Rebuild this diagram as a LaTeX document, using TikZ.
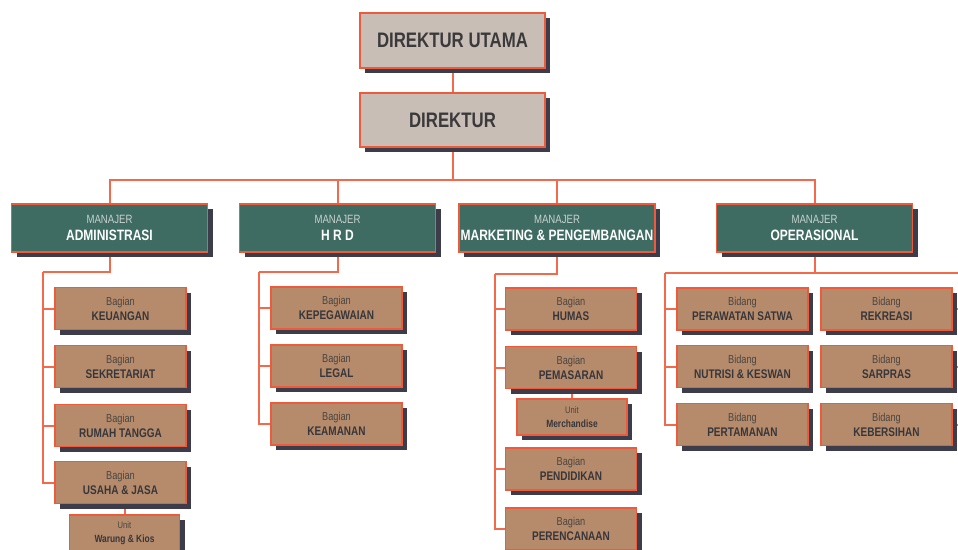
\documentclass[tikz,border=0pt]{standalone}
\usepackage{fontspec}
\newfontfamily\cf[FakeStretch=0.8]{Liberation Sans}
\usetikzlibrary{shadows,backgrounds}
\definecolor{topfill}{HTML}{C9BEB6}
\definecolor{toptext}{HTML}{3A3A3C}
\definecolor{tealbox}{HTML}{3E6B62}
\definecolor{tanbox}{HTML}{B58B6B}
\definecolor{subtext}{HTML}{36363C}
\definecolor{bagtext}{HTML}{4A4542}
\definecolor{bord}{HTML}{EE5A3C}
\definecolor{shad}{HTML}{3C3C4A}
\definecolor{lnk}{HTML}{F26A4B}
\definecolor{mgrsmall}{HTML}{C8D2CE}
\newcommand{\subtxt}[2]{{\fontsize{11.5}{12}\selectfont\color{bagtext}#1}\\[3pt]{\fontsize{12.5}{13}\selectfont\bfseries #2}}
\newcommand{\unittxt}[2]{{\fontsize{9.5}{10}\selectfont\color{bagtext}#1}\\[2pt]{\fontsize{10.5}{11}\selectfont\bfseries #2}}
\newcommand{\mgrtxt}[2]{{\fontsize{12}{13}\selectfont\color{mgrsmall}#1}\\[5pt]{\fontsize{15}{16}\selectfont\bfseries #2}}
\begin{document}
\begin{tikzpicture}[x=1pt,y=-1pt,
  base/.style={draw=bord, line width=1.4pt, inner sep=0pt, align=center,
    drop shadow={shadow xshift=5pt, shadow yshift=-5pt, fill=shad, opacity=1}},
  topbox/.style={base, fill=topfill, minimum width=185pt, text=toptext,
    font=\cf\bfseries\fontsize{21}{24}\selectfont},
  mgr/.style={base, fill=tealbox, minimum width=196pt, minimum height=48pt, text=white, font=\cf},
  subbox/.style={base, fill=tanbox, minimum width=131pt, minimum height=42pt, text=subtext, font=\cf},
  unitbox/.style={base, fill=tanbox, minimum width=110pt, minimum height=36pt, text=subtext, font=\cf},
  link/.style={draw=lnk, line width=2pt}]
\clip (0,0) rectangle (958,549);
% top
\node[topbox, minimum height=55pt] (du) at (452.5,40.5) {DIREKTUR UTAMA};
\node[topbox, minimum height=54pt] (d) at (452.5,120) {DIREKTUR};
% managers
\node[mgr] (adm) at (109.5,228) {\mgrtxt{MANAJER}{ADMINISTRASI}};
\node[mgr] (hrd) at (337.5,228) {\mgrtxt{MANAJER}{H R D}};
\node[mgr] (mkt) at (557,228) {\mgrtxt{MANAJER}{MARKETING \& PENGEMBANGAN}};
\node[mgr] (opr) at (814.5,228) {\mgrtxt{MANAJER}{OPERASIONAL}};
% administrasi
\node[subbox] (keu) at (120.5,308.5) {\subtxt{Bagian}{KEUANGAN}};
\node[subbox] (sek) at (120.5,366.5) {\subtxt{Bagian}{SEKRETARIAT}};
\node[subbox] (rum) at (120.5,425.5) {\subtxt{Bagian}{RUMAH TANGGA}};
\node[subbox] (ush) at (120.5,482.5) {\subtxt{Bagian}{USAHA \& JASA}};
\node[unitbox] (wk) at (124.5,533) {\unittxt{Unit}{Warung \& Kios}};
% hrd
\node[subbox] (kep) at (336.5,308) {\subtxt{Bagian}{KEPEGAWAIAN}};
\node[subbox] (leg) at (336.5,366) {\subtxt{Bagian}{LEGAL}};
\node[subbox] (kea) at (336.5,424) {\subtxt{Bagian}{KEAMANAN}};
% marketing
\node[subbox] (hum) at (571,309) {\subtxt{Bagian}{HUMAS}};
\node[subbox] (pem) at (571,367.5) {\subtxt{Bagian}{PEMASARAN}};
\node[unitbox] (mer) at (572,417) {\unittxt{Unit}{Merchandise}};
\node[subbox] (pen) at (571,469) {\subtxt{Bagian}{PENDIDIKAN}};
\node[subbox] (per) at (571,529) {\subtxt{Bagian}{PERENCANAAN}};
% operasional
\node[subbox] (pws) at (742.5,309) {\subtxt{Bidang}{PERAWATAN SATWA}};
\node[subbox] (nut) at (742.5,366.5) {\subtxt{Bidang}{NUTRISI \& KESWAN}};
\node[subbox] (ptm) at (742.5,424.5) {\subtxt{Bidang}{PERTAMANAN}};
\node[subbox] (rek) at (886.5,309) {\subtxt{Bidang}{REKREASI}};
\node[subbox] (sar) at (886.5,366.5) {\subtxt{Bidang}{SARPRAS}};
\node[subbox] (keb) at (886.5,424.5) {\subtxt{Bidang}{KEBERSIHAN}};
% connectors
\coordinate (hb) at (452.5,180);
\coordinate (aS) at (43,272);
\coordinate (hS) at (259,272);
\coordinate (mS) at (495,274);
\coordinate (oL) at (665,273);
\coordinate (oR) at (970,273);
\begin{scope}[on background layer]
\fill[white] (0,0) rectangle (958,549);
\draw[link] (du) -- (d);
\draw[link] (d.south) -- (hb);
\draw[link] (adm.north) |- (hb);
\draw[link] (opr.north) |- (hb);
\draw[link] (hrd.north) -- (hrd.north |- hb);
\draw[link] (mkt.north) -- (mkt.north |- hb);
% admin column
\draw[link] (adm.south) |- (aS);
\draw[link] (keu.west) -| (aS);
\draw[link] (sek.west) -| (aS);
\draw[link] (rum.west) -| (aS);
\draw[link] (ush.west) -| (aS);
\draw[link] (wk.north) -- (wk.north |- ush.south);
% hrd column
\draw[link] (hrd.south) |- (hS);
\draw[link] (kep.west) -| (hS);
\draw[link] (leg.west) -| (hS);
\draw[link] (kea.west) -| (hS);
% marketing column
\draw[link] (mkt.south) |- (mS);
\draw[link] (hum.west) -| (mS);
\draw[link] (pem.west) -| (mS);
\draw[link] (pen.west) -| (mS);
\draw[link] (per.west) -| (mS);
\draw[link] (mer.north) -- (mer.north |- pem.south);
% operasional column
\draw[link] (opr.south) |- (oL);
\draw[link] (oL) -- (oR);
\draw[link] (pws.west) -| (oL);
\draw[link] (nut.west) -| (oL);
\draw[link] (ptm.west) -| (oL);
\draw[link] (rek.east) -| (oR);
\draw[link] (sar.east) -| (oR);
\draw[link] (keb.east) -| (oR);
\end{scope}
\end{tikzpicture}
\end{document}
